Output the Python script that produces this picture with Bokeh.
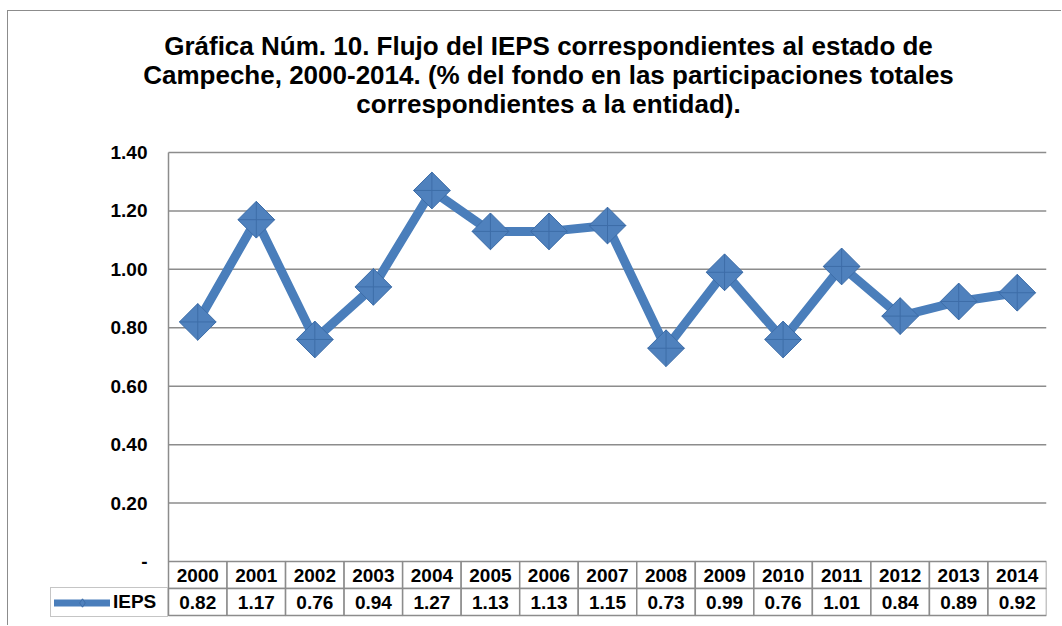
from bokeh.plotting import figure
from bokeh.models import (Range1d, Legend, LegendItem, ColumnDataSource, Title)
from bokeh.core.properties import value
from bokeh.embed import file_html
from bokeh.resources import INLINE

# ---- data ----
years = ["2000", "2001", "2002", "2003", "2004", "2005", "2006", "2007",
         "2008", "2009", "2010", "2011", "2012", "2013", "2014"]
ieps = [0.82, 1.17, 0.76, 0.94, 1.27, 1.13, 1.13, 1.15,
        0.73, 0.99, 0.76, 1.01, 0.84, 0.89, 0.92]
y_ticks = [0.0, 0.2, 0.4, 0.6, 0.8, 1.0, 1.2, 1.4]
y_tick_labels = ["-", "0.20", "0.40", "0.60", "0.80", "1.00", "1.20", "1.40"]
series_name = "IEPS"
title_lines = ["Gráfica Núm. 10. Flujo del IEPS correspondientes al estado de",
               "Campeche, 2000-2014. (% del fondo en las participaciones totales",
               "correspondientes a la entidad)."]

FONT = "Liberation Sans"
GRID = "#8c8c8c"
BLUE = "#4a7ebb"
FS = "19px"

W, H = 1054, 615
cell_px = (1046 - 168) / 15.0     # width of one year column in px
ppu = 409.0 / 1.4                 # px per y unit
row_h = 27.0 / ppu
y_bottom = -(58.0 / ppu)
y_top = 1.4 + 12.0 / ppu          # head room so the top tick label is not clipped
x_left = -(168 - 50) / cell_px    # room for the legend cell left of the axis
n = len(years)

p = figure(width=W, height=H, output_backend="svg", toolbar_location=None,
           x_range=Range1d(x_left, n), y_range=Range1d(y_bottom, y_top),
           x_axis_location=None, y_axis_location=None, title=None,
           min_border_left=42, min_border_right=16, min_border_top=129,
           min_border_bottom=7)
p.styles = {"margin-left": "7px", "margin-top": "10px",
            "border-left": "1px solid #8c8c8c", "border-top": "1px solid #8c8c8c"}
p.outline_line_color = None
p.grid.visible = False

xc = [i + 0.5 for i in range(n)]

# ---- value axis: grid lines, axis line and tick labels ----
p.segment(x0=[0] * (len(y_ticks) - 1), x1=[n] * (len(y_ticks) - 1),
          y0=y_ticks[1:], y1=y_ticks[1:], line_color=GRID, line_width=1.5)
p.segment(x0=[0], x1=[0], y0=[y_ticks[0]], y1=[y_ticks[-1]],
          line_color=GRID, line_width=1.5)
p.text(x=[0] * len(y_ticks), y=y_ticks, text=y_tick_labels, x_offset=-21,
       text_align="right", text_baseline="middle", text_font=value(FONT),
       text_font_size=FS, text_font_style="bold", text_color="black")

# ---- data table ----
tab = ColumnDataSource(dict(
    x=xc, year=years,
    yh=[-row_h / 2] * n,
    yv=[-row_h * 1.5] * n,
    lab=[f"{v:.2f}" for v in ieps],
))
p.rect(x="x", y="yh", width=1, height=row_h, source=tab, fill_color="white",
       line_color=GRID, line_width=1.5)
p.rect(x="x", y="yv", width=1, height=row_h, source=tab, fill_color="white",
       line_color=GRID, line_width=1.5)
p.text(x="x", y="yh", text="year", source=tab, text_align="center",
       text_baseline="middle", text_font=value(FONT), text_font_size=FS,
       text_font_style="bold", text_color="black")
p.text(x="x", y="yv", text="lab", source=tab, text_align="center",
       text_baseline="middle", text_font=value(FONT), text_font_size=FS,
       text_font_style="bold", text_color="black")

# ---- series ----
# key-styled renderers (thinner line, small diamond) drawn underneath, used by the legend
key_line = p.line(xc, ieps, line_width=7, line_color=BLUE, line_cap="round")
key_mark = p.scatter(xc, ieps, marker="diamond", size=14,
                     fill_color="#4f81bd", line_color="#3d6da8", line_width=1)
ln = p.line(xc, ieps, line_width=9, line_color=BLUE)
mk = p.scatter(xc, ieps, marker="square_x", size=26, angle=0.785398,
               fill_color="#4f81bd", line_color="#3d6da8", line_width=1)

leg = Legend(items=[LegendItem(label=series_name, renderers=[key_line, key_mark])],
             location=(0, 2), orientation="vertical",
             glyph_width=56, glyph_height=21, label_height=21,
             label_width=51, label_standoff=3, padding=3, spacing=0, margin=0,
             border_line_color=GRID, border_line_width=1.5,
             background_fill_color="white", background_fill_alpha=1,
             label_text_font=FONT, label_text_font_size=FS,
             label_text_font_style="bold", label_text_color="black")
p.add_layout(leg, "center")

# spacer closest to the plot, then the three title lines
p.add_layout(Title(text=" ", text_font_size="19px", standoff=0), "above")
for line in reversed(title_lines):
    t = Title(text=line, align="center", standoff=-3,
              text_font=FONT, text_font_size="26px", text_font_style="bold",
              text_color="black", text_line_height=1.0)
    p.add_layout(t, "above")

open("out.html", "w").write(file_html(p, INLINE))
